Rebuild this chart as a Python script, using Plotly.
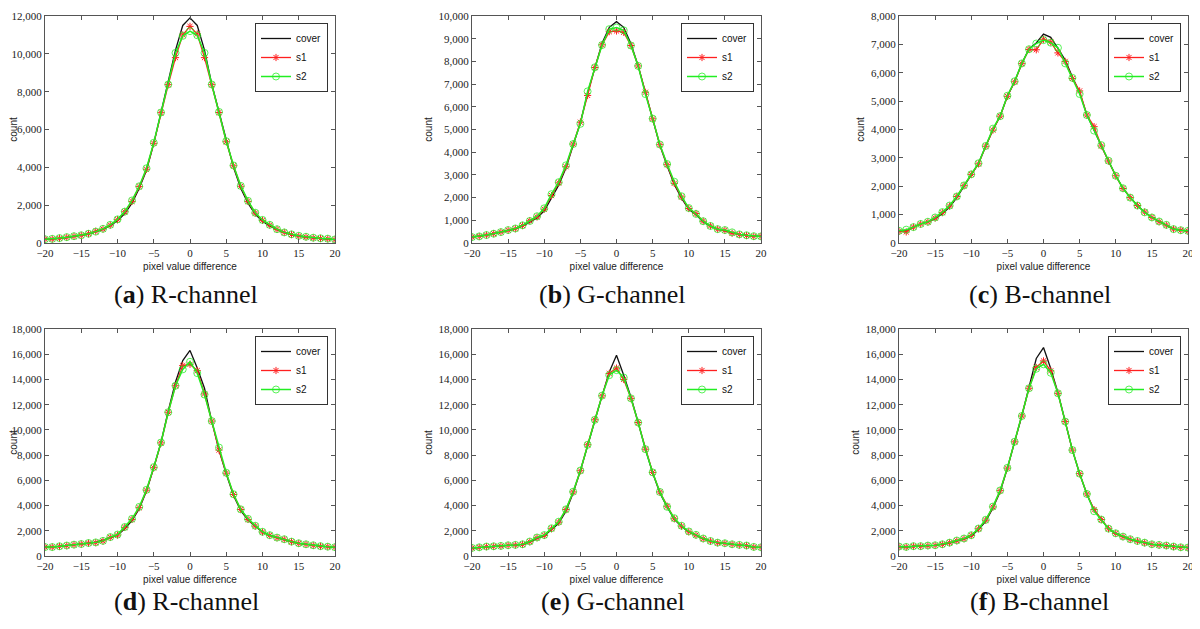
import plotly.graph_objects as go

# pixel value difference
x = list(range(-20, 21))

# (a) R-channel
a_cover = [190, 210, 240, 290, 340, 390, 470, 590, 720, 920, 1180, 1560, 2100, 2900, 3850, 5250, 6900, 8400, 10200, 11500, 11900,
           11500, 10200, 8400, 6950, 5350, 4000, 2900, 2100, 1520, 1150, 900, 700, 550, 440, 360, 310, 260, 230, 210, 180]
a_s1 = [200, 210, 250, 300, 350, 400, 490, 620, 740, 950, 1230, 1650, 2200, 2980, 3900, 5270, 6890, 8370, 9800, 11000, 11450,
        11050, 9800, 8370, 6900, 5350, 4080, 3000, 2200, 1580, 1200, 950, 720, 560, 450, 370, 320, 270, 240, 220, 180]
a_s2 = [200, 220, 260, 310, 360, 410, 490, 600, 750, 960, 1250, 1660, 2250, 3000, 3950, 5300, 6900, 8380, 10050, 10950, 11200,
        10980, 10050, 8380, 6930, 5380, 4100, 3020, 2230, 1600, 1220, 960, 730, 560, 460, 380, 330, 280, 250, 230, 190]

# (b) G-channel
b_cover = [270, 300, 350, 410, 480, 550, 620, 740, 930, 1100, 1420, 2000, 2550, 3300, 4300, 5300, 6600, 7750, 8800, 9500, 9750,
           9500, 8780, 7800, 6650, 5450, 4300, 3400, 2580, 1980, 1480, 1250, 930, 740, 600, 540, 450, 380, 340, 300, 290]
b_s1 = [260, 290, 350, 410, 480, 560, 630, 770, 980, 1150, 1490, 2090, 2650, 3360, 4360, 5320, 6500, 7730, 8730, 9310, 9340,
        9280, 8700, 7800, 6640, 5470, 4330, 3450, 2630, 2030, 1520, 1300, 960, 750, 610, 560, 430, 370, 330, 290, 290]
b_s2 = [260, 290, 350, 410, 480, 570, 640, 780, 970, 1180, 1530, 2150, 2680, 3420, 4360, 5250, 6680, 7740, 8720, 9420, 9490,
        9370, 8700, 7800, 6560, 5480, 4340, 3480, 2700, 2060, 1540, 1280, 960, 750, 610, 570, 470, 380, 340, 300, 290]

# (c) B-channel
c_cover = [420, 440, 560, 670, 740, 860, 1030, 1270, 1600, 2000, 2420, 2800, 3410, 3980, 4480, 5170, 5680, 6330, 6850, 7050, 7360,
           7250, 6860, 6450, 5850, 5300, 4520, 4000, 3430, 2880, 2370, 1930, 1600, 1320, 1080, 900, 750, 630, 490, 450, 420]
c_s1 = [410, 390, 560, 670, 740, 880, 1070, 1300, 1640, 2020, 2420, 2790, 3410, 3980, 4470, 5170, 5680, 6320, 6820, 6810, 7180,
        7080, 6700, 6400, 5800, 5360, 4510, 4100, 3420, 2890, 2370, 1920, 1600, 1320, 1090, 900, 750, 630, 490, 450, 420]
c_s2 = [430, 470, 560, 670, 750, 900, 1090, 1320, 1640, 2030, 2420, 2810, 3420, 4030, 4470, 5190, 5700, 6330, 6830, 7030, 7150,
        7060, 6880, 6330, 5820, 5250, 4510, 3960, 3450, 2900, 2370, 1930, 1600, 1320, 1080, 900, 760, 640, 490, 450, 430]

# (d) R-channel
d_cover = [700, 710, 760, 820, 880, 950, 1020, 1100, 1250, 1450, 1650, 2150, 2800, 3750, 5150, 7000, 9000, 11500, 13800, 15500, 16300,
           14900, 13300, 10700, 8400, 6500, 4800, 3600, 2850, 2350, 1880, 1640, 1450, 1320, 1130, 1000, 920, 840, 770, 730, 690]
d_s1 = [710, 710, 770, 820, 900, 950, 1020, 1060, 1190, 1480, 1660, 2270, 2900, 3830, 5220, 7000, 8970, 11400, 13500, 15100, 15200,
        14700, 12850, 10700, 8400, 6570, 4880, 3690, 2900, 2370, 1900, 1640, 1450, 1320, 1130, 1000, 920, 840, 770, 740, 690]
d_s2 = [710, 710, 770, 830, 900, 950, 1030, 1080, 1200, 1500, 1700, 2300, 2950, 3900, 5250, 7050, 9000, 11400, 13500, 14800, 15400,
        14500, 12800, 10700, 8600, 6600, 4900, 3700, 2950, 2400, 1920, 1650, 1460, 1330, 1140, 1010, 930, 850, 780, 740, 700]

# (e) G-channel
e_cover = [630, 680, 740, 760, 790, 840, 870, 920, 1100, 1400, 1600, 2100, 2600, 3550, 5000, 6750, 8800, 10800, 12700, 14600, 15920,
           14340, 12600, 10600, 8450, 6600, 5000, 3900, 2900, 2330, 1900, 1650, 1370, 1180, 1050, 1000, 920, 870, 820, 710, 680]
e_s1 = [630, 680, 740, 760, 790, 840, 870, 920, 1130, 1450, 1630, 2160, 2680, 3680, 5080, 6760, 8820, 10800, 12700, 14470, 14900,
        14000, 12500, 10580, 8470, 6630, 5080, 3950, 2950, 2370, 1920, 1660, 1370, 1180, 1050, 1000, 920, 870, 820, 710, 680]
e_s2 = [640, 690, 750, 770, 800, 850, 880, 930, 1150, 1470, 1660, 2200, 2720, 3700, 5100, 6780, 8820, 10800, 12720, 14340, 14740,
        14150, 12500, 10580, 8470, 6630, 5080, 3900, 3000, 2400, 1950, 1680, 1390, 1190, 1060, 1010, 930, 880, 830, 720, 690]

# (f) B-channel
f_cover = [740, 710, 770, 770, 820, 840, 900, 1020, 1180, 1340, 1580, 2100, 2750, 3800, 5100, 6950, 9050, 11100, 13400, 15660, 16530,
           14870, 12950, 10660, 8400, 6530, 4900, 3650, 2850, 2150, 1780, 1520, 1310, 1170, 1040, 920, 870, 820, 740, 680, 660]
f_s1 = [740, 710, 770, 770, 820, 840, 920, 1050, 1210, 1370, 1630, 2160, 2840, 3890, 5180, 6970, 9050, 11100, 13300, 14950, 15470,
        14680, 12900, 10660, 8400, 6530, 4920, 3680, 2890, 2160, 1790, 1530, 1320, 1180, 1050, 920, 870, 820, 740, 680, 660]
f_s2 = [750, 720, 780, 780, 830, 850, 930, 1060, 1230, 1390, 1650, 2180, 2870, 3920, 5200, 6990, 9060, 11100, 13300, 14850, 15200,
        14530, 12900, 10660, 8400, 6530, 4920, 3550, 2890, 2170, 1800, 1540, 1330, 1190, 1060, 930, 880, 830, 750, 690, 670]

captions = ["a", "b", "c", "d", "e", "f"]
channels = ["R-channel", "G-channel", "B-channel", "R-channel", "G-channel", "B-channel"]
y_max = [12000, 10000, 8000, 18000, 18000, 18000]
y_step = [2000, 1000, 1000, 2000, 2000, 2000]
panels = [(a_cover, a_s1, a_s2), (b_cover, b_s1, b_s2), (c_cover, c_s1, c_s2),
          (d_cover, d_s1, d_s2), (e_cover, e_s1, e_s2), (f_cover, f_s1, f_s2)]

# the page body has an 8px margin, so positions are shifted by that much
OFF = 8
W, H = 1200 - OFF, 629 - OFF
col_px = [(45, 335), (472, 761), (899, 1188)]
row_px = [(16, 243), (329, 556)]
cap_y = [294, 601]

fig = go.Figure()
layout = dict(width=W, height=H, margin=dict(l=0, r=0, t=0, b=0, autoexpand=False),
              paper_bgcolor="white", plot_bgcolor="white", annotations=[])

tick_font = dict(family="Liberation Serif", size=11, color="#222")
title_font = dict(family="Liberation Sans", size=10, color="#222")

for i, (cov, s1, s2) in enumerate(panels):
    r, c = divmod(i, 3)
    n = "" if i == 0 else str(i + 1)
    lg = "legend" + n
    x0, x1 = [p - OFF for p in col_px[c]]
    top, bot = [p - OFF for p in row_px[r]]

    fig.add_trace(go.Scatter(x=x, y=cov, name="cover", mode="lines", line=dict(color="#111", width=1.3),
                             xaxis="x" + n, yaxis="y" + n, legend=lg))
    fig.add_trace(go.Scatter(x=x, y=s1, name="s1", mode="lines+markers", line=dict(color="#ff2020", width=1.3),
                             marker=dict(symbol="asterisk-open", size=6, line=dict(color="#ff2020", width=1)),
                             xaxis="x" + n, yaxis="y" + n, legend=lg))
    fig.add_trace(go.Scatter(x=x, y=s2, name="s2", mode="lines+markers", line=dict(color="#22ee22", width=1.5),
                             marker=dict(symbol="circle-open", size=7, opacity=0.75,
                                         line=dict(color="#22ee22", width=1)),
                             xaxis="x" + n, yaxis="y" + n, legend=lg))

    common = dict(showline=True, linecolor="#555", linewidth=1, mirror="ticks", ticks="inside", ticklen=4,
                  tickcolor="#555", showgrid=False, zeroline=False, tickfont=tick_font, automargin=False,
                  ticklabeloverflow="allow")
    layout["xaxis" + n] = dict(common, domain=[x0 / W, x1 / W], range=[-20, 20], dtick=5, anchor="y" + n,
                               title=dict(text="pixel value difference", font=title_font, standoff=4))
    layout["yaxis" + n] = dict(common, domain=[1 - bot / H, 1 - top / H], range=[0, y_max[i]], dtick=y_step[i],
                               tickformat=",d", anchor="x" + n,
                               title=dict(text="count", font=title_font, standoff=4))
    layout[lg] = dict(x=(x1 - 7) / W, xanchor="right", y=1 - (top + 7) / H, yanchor="top",
                      bgcolor="white", bordercolor="#333", borderwidth=1, itemwidth=30, tracegroupgap=0,
                      font=dict(family="Liberation Sans", size=10, color="#111"))
    layout["annotations"].append(dict(
        text="(<b>%s</b>) %s" % (captions[i], channels[i]), xref="paper", yref="paper",
        x=((x0 + x1) / 2 - 4) / W, y=1 - (cap_y[r] - OFF) / H, xanchor="center", yanchor="middle",
        showarrow=False, font=dict(family="Liberation Serif", size=26, color="#111")))

fig.update_layout(**layout)
fig.write_html("out.html")
